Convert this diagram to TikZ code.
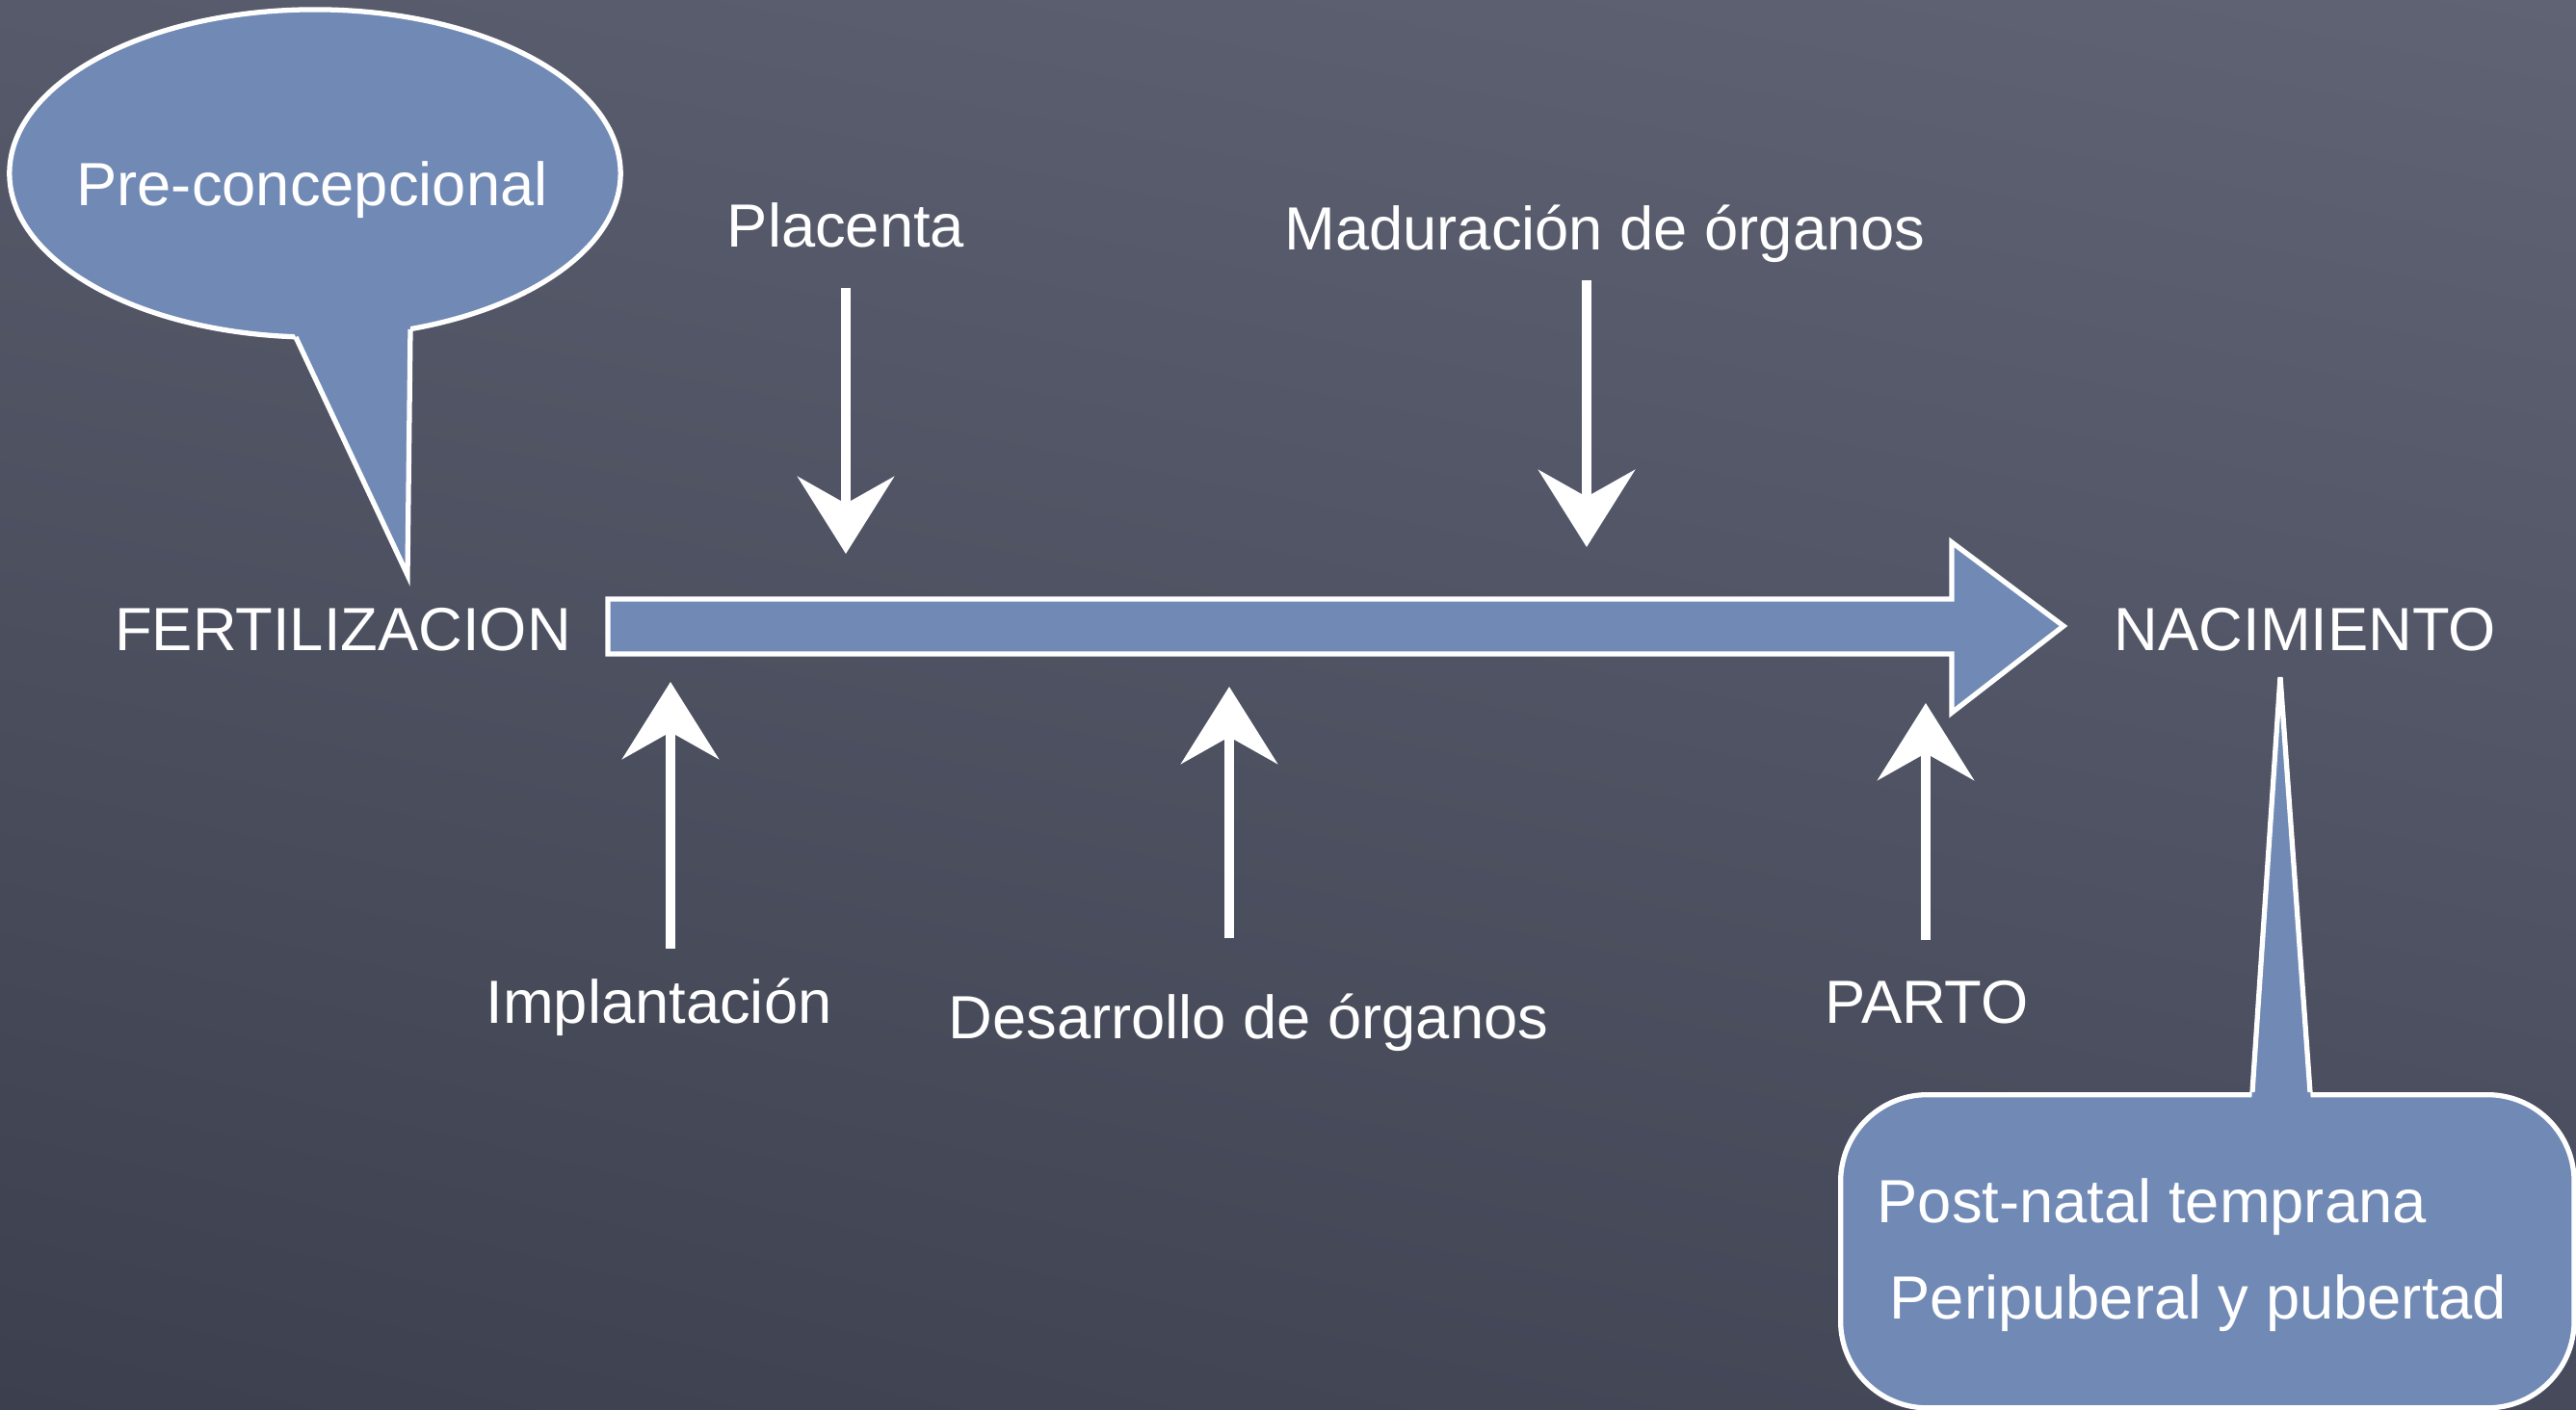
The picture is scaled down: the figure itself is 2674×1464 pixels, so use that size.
\documentclass[tikz,border=0pt]{standalone}
\usepackage{fontspec}
\setmainfont{Liberation Sans}
\usetikzlibrary{arrows.meta, shapes.geometric, shadings}

\definecolor{boardul}{RGB}{86,90,106}
\definecolor{boardur}{RGB}{96,99,116}
\definecolor{boardll}{RGB}{60,64,78}
\definecolor{boardlr}{RGB}{70,74,90}
\definecolor{slateblue}{RGB}{113,138,181}

\tikzset{
	txt/.style = {text = white, font = \fontsize{18}{22}\selectfont, inner sep = 2pt, text height = 13pt, text depth = 0pt},
	chalk/.style = {draw = white, line width = 2.8pt, -{Stealth[length = 8mm, width = 10mm, inset = 2.8mm]}},
	bubble/.style = {fill = slateblue, draw = white, line width = 1.5pt}
}

\begin{document}
\begin{tikzpicture}[> = latex, x = 0.01cm, y = -0.01cm]

	% Board

	\useasboundingbox (0, 0) rectangle (2674, 1464);
	\shade [upper left = boardul, upper right = boardur, lower left = boardll, lower right = boardlr] (0, 0) rectangle (2674, 1464);

	% Time line

	\node [txt] (fert) at (356, 653) {FERTILIZACION};
	\node [txt] (nac) at (2393, 653) {NACIMIENTO};

	\coordinate (start) at (631, 650);
	\coordinate (end) at (2142, 650);
	\draw [bubble, line join = miter] (start) ++(0, -28) -- ++(1395, 0) -- ++(0, -59) -- (end) -- ++(-116, 90) -- ++(0, -61) -- ++(-1395, 0) -- cycle;

	% Pre-concepcional bubble

	\node [bubble, ellipse, minimum width = 6.34cm, minimum height = 3.4cm, inner sep = 0pt] (prebox) at (327, 180) {};
	\coordinate (pretip) at (423, 597);
	\fill [slateblue] (301, 337) -- (pretip) -- (426, 329) -- cycle;
	\draw [white, line width = 1.5pt, line join = miter] (307, 350) -- (pretip) -- (426, 342);
	\node [txt] (pre) at (324, 191) {Pre-concepcional};

	% Post-natal box

	\node [bubble, rounded corners = 0.9cm, anchor = north west, minimum width = 7.61cm, minimum height = 3.25cm] (postbox) at (1908, 1134) {};
	\coordinate (posttip) at (2367, 703);
	\fill [slateblue] (2337, 1145) -- (posttip) -- (2399, 1145) -- cycle;
	\draw [white, line width = 1.5pt, line join = miter] (2338, 1134) -- (posttip) -- (2398, 1134);
	\node [txt, anchor = west] (post) at (1941, 1247) {Post-natal temprana};
	\node [txt, anchor = west] (peri) at (1954, 1347) {Peripuberal y pubertad};

	% Chalk arrows above

	\node [txt] (plac) at (878, 234) {Placenta};
	\node [txt] (mad) at (1666, 237) {Maduración de órganos};
	\coordinate (plactip) at (878, 575);
	\coordinate (madtip) at (1647, 568);
	\draw [chalk, shorten <= 0.34cm] (plac.south -| plactip) -- (plactip);
	\draw [chalk, shorten <= 0.23cm] (mad.south -| madtip) -- (madtip);

	% Chalk arrows below

	\node [txt] (impl) at (684, 1040) {Implantación};
	\node [txt] (des) at (1296, 1056) {Desarrollo de órganos};
	\node [txt] (parto) at (2000, 1040) {PARTO};
	\coordinate (impltip) at (696, 708);
	\coordinate (destip) at (1276, 713);
	\coordinate (partotip) at (1999, 730);
	\draw [chalk, shorten <= 0.24cm] (impl.north -| impltip) -- (impltip);
	\draw [chalk, shorten <= 0.51cm] (des.north -| destip) -- (destip);
	\draw [chalk, shorten <= 0.33cm] (parto.north -| partotip) -- (partotip);

\end{tikzpicture}
\end{document}
